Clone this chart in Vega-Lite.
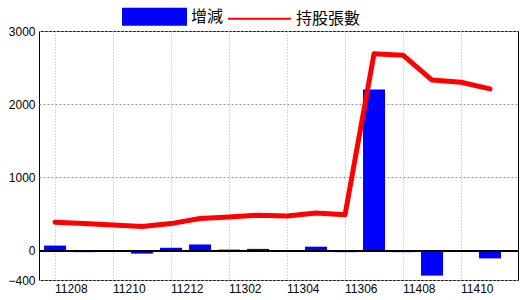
{
  "$schema": "https://vega.github.io/schema/vega-lite/v6.json",
  "width": 479,
  "height": 249,
  "autosize": {"type": "none"},
  "padding": {"left": 39, "top": 31, "right": 2, "bottom": 20},
  "background": "white",
  "config": {
    "view": {"stroke": "#000000", "strokeWidth": 1},
    "axis": {"labelFont": "Liberation Sans", "labelFontSize": 11, "labelColor": "#000000", "ticks": false, "domain": false, "title": null}
  },
  "data": {
    "values": [
      {"ym": "11208", "chg": 70, "hold": 390},
      {"ym": "11209", "chg": -20, "hold": 370},
      {"ym": "11210", "chg": 0, "hold": 350},
      {"ym": "11211", "chg": -40, "hold": 330},
      {"ym": "11212", "chg": 40, "hold": 370},
      {"ym": "11301", "chg": 85, "hold": 440},
      {"ym": "11302", "chg": 15, "hold": 460},
      {"ym": "11303", "chg": 25, "hold": 485},
      {"ym": "11304", "chg": 0, "hold": 475},
      {"ym": "11305", "chg": 55, "hold": 515},
      {"ym": "11306", "chg": -20, "hold": 490},
      {"ym": "11407", "chg": 2200, "hold": 2690},
      {"ym": "11408", "chg": -20, "hold": 2670},
      {"ym": "11409", "chg": -340, "hold": 2330},
      {"ym": "11410", "chg": 0, "hold": 2300},
      {"ym": "11411", "chg": -105, "hold": 2210}
    ]
  },
  "encoding": {
    "x": {
      "field": "ym",
      "type": "ordinal",
      "sort": null,
      "scale": {"paddingInner": 0.24, "paddingOuter": 0.38, "align": 0.23},
      "axis": {
        "values": ["11208", "11210", "11212", "11302", "11304", "11306", "11408", "11410"],
        "labelAngle": 0,
        "labelAlign": "left",
        "labelPadding": 3,
        "labelFontSize": 12,
        "bandPosition": 0.5,
        "grid": true,
        "gridColor": "#a8b8c8",
        "gridDash": [1, 2],
        "gridWidth": 1
      }
    }
  },
  "layer": [
    {
      "mark": {"type": "bar"},
      "encoding": {
        "y": {
          "field": "chg",
          "type": "quantitative",
          "scale": {"domain": [-400, 3000], "nice": false, "zero": false},
          "axis": {
            "values": [-400, 0, 1000, 2000, 3000],
            "format": "d",
            "labelPadding": 4,
            "labelFontSize": 12,
            "grid": true,
            "gridColor": "#999999",
            "gridDash": [2, 2],
            "gridWidth": 1
          }
        },
        "color": {
          "datum": "增減",
          "type": "nominal",
          "scale": {"domain": ["增減", "持股張數"], "range": ["#0000ff", "#ff0000"]},
          "legend": {
            "title": null,
            "orient": "none",
            "legendX": 83,
            "legendY": -47,
            "direction": "horizontal",
            "columnPadding": 0,
            "labelOffset": 4,
            "labelFont": "Noto Sans CJK TC",
            "labelFontSize": 16,
            "labelColor": "#000000",
            "symbolSize": 3969,
            "symbolType": "M-1,-0.254H1V0.254H-1Z",
            "padding": 0,
            "encode": {
              "symbols": {
                "update": {
                  "shape": {"signal": "datum.value === '增減' ? 'M-1,-0.254H1V0.254H-1Z' : 'M-1,0H1'"},
                  "fill": {"signal": "datum.value === '增減' ? '#0000ff' : 'transparent'"},
                  "stroke": {"signal": "datum.value === '增減' ? 'transparent' : '#ff0000'"},
                  "strokeWidth": {"value": 2},
                  "opacity": {"value": 1}
                }
              }
            }
          }
        }
      }
    },
    {
      "mark": {"type": "rule", "color": "#000000", "strokeWidth": 1},
      "encoding": {"y": {"datum": 0}, "x": {"value": 0}, "x2": {"value": 479}}
    },
    {
      "mark": {"type": "line", "strokeWidth": 5, "strokeJoin": "round", "strokeCap": "round"},
      "encoding": {
        "y": {"field": "hold", "type": "quantitative"},
        "color": {"datum": "持股張數", "type": "nominal"}
      }
    }
  ]
}
